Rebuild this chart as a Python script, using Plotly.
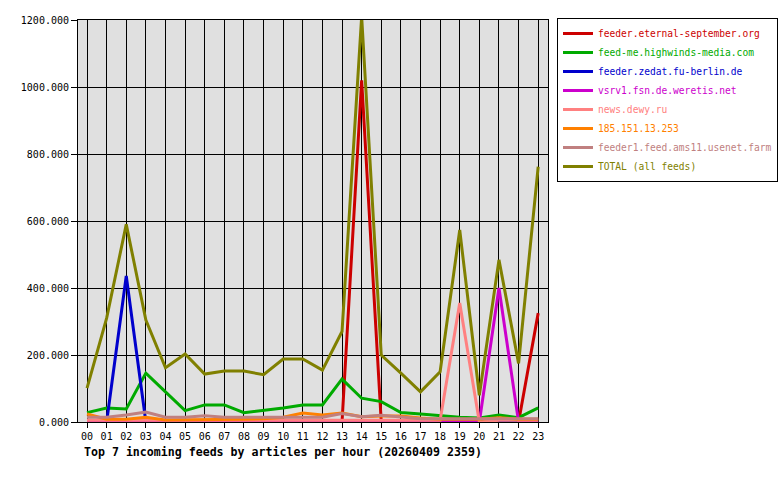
import plotly.graph_objects as go

hours = ["00","01","02","03","04","05","06","07","08","09","10","11",
         "12","13","14","15","16","17","18","19","20","21","22","23"]

eternal_september = [0,0,0,0,0,0,0,0,0,0,0,0,0,0,1020,0,0,0,0,0,0,0,0,325]
highwinds = [28,42,39,146,90,34,51,51,28,34,42,51,51,128,71,61,28,24,18,14,12,21,13,42]
zedat = [0,0,436,0,0,0,0,0,0,0,0,0,0,0,0,0,0,0,0,0,0,0,0,0]
weretis = [0,0,0,0,0,0,0,0,0,0,0,0,0,0,0,0,0,0,0,0,0,400,0,0]
dewy = [5,5,5,5,5,5,5,5,5,5,5,5,5,5,5,5,5,5,5,355,0,5,5,5]
ip_185 = [24,8,8,14,6,6,8,6,8,10,14,27,21,27,16,18,18,12,8,8,8,13,8,8]
ams11 = [14,14,21,30,14,14,19,14,14,14,14,14,14,25,16,20,14,10,10,10,10,10,10,10]
total = [101,310,590,304,162,203,143,152,152,141,188,188,155,270,1210,200,146,90,150,573,80,484,175,762]

names = ["feeder.eternal-september.org", "feed-me.highwinds-media.com",
         "feeder.zedat.fu-berlin.de", "vsrv1.fsn.de.weretis.net",
         "news.dewy.ru", "185.151.13.253", "feeder1.feed.ams11.usenet.farm",
         "TOTAL (all feeds)"]
series = [eternal_september, highwinds, zedat, weretis, dewy, ip_185, ams11, total]
colors = ["#cc0000", "#00aa00", "#0000cc", "#cc00cc", "#ff8080", "#ff8000", "#c08080", "#808000"]

xs = list(range(len(hours)))
fig = go.Figure()
for name, vals, col in zip(names, series, colors):
    fig.add_trace(go.Scatter(x=xs, y=vals, mode="lines",
                             name=f"<span style='color:{col}'>{name}</span>",
                             line=dict(color=col, width=3)))

mono = "DejaVu Sans Mono"
fig.update_layout(
    width=780, height=480,
    margin=dict(l=78, r=232, t=20, b=58, autoexpand=False),
    paper_bgcolor="white", plot_bgcolor="#e0e0e0",
    font=dict(family=mono, size=10, color="black"),
    showlegend=True,
    legend=dict(x=1.0191, y=1.005, xanchor="left", yanchor="top",
                bordercolor="black", borderwidth=1, bgcolor="white",
                font=dict(family=mono, size=9.6), tracegroupgap=0,
                itemwidth=30),
    xaxis=dict(range=[-0.46, 23.5], tickvals=xs, ticktext=hours,
               showgrid=True, gridcolor="black", gridwidth=1,
               showline=True, linecolor="black", linewidth=1, mirror=True,
               ticks="outside", ticklen=5, tickcolor="black", zeroline=False,
               tickfont=dict(family=mono, size=10)),
    yaxis=dict(range=[0, 1200], dtick=200, tickformat=".3f",
               showgrid=True, gridcolor="black", gridwidth=1,
               showline=True, linecolor="black", linewidth=1, mirror=True,
               ticks="outside", ticklen=6, tickcolor="black", zeroline=False,
               tickfont=dict(family=mono, size=10)),
    annotations=[dict(text="<b>Top 7 incoming feeds by articles per hour (20260409 2359)</b>",
                      xref="paper", yref="paper", x=0.0085, y=-0.0746,
                      xanchor="left", yanchor="middle", showarrow=False,
                      font=dict(family=mono, size=11.6, color="black"))],
)

fig.write_html("out.html")
